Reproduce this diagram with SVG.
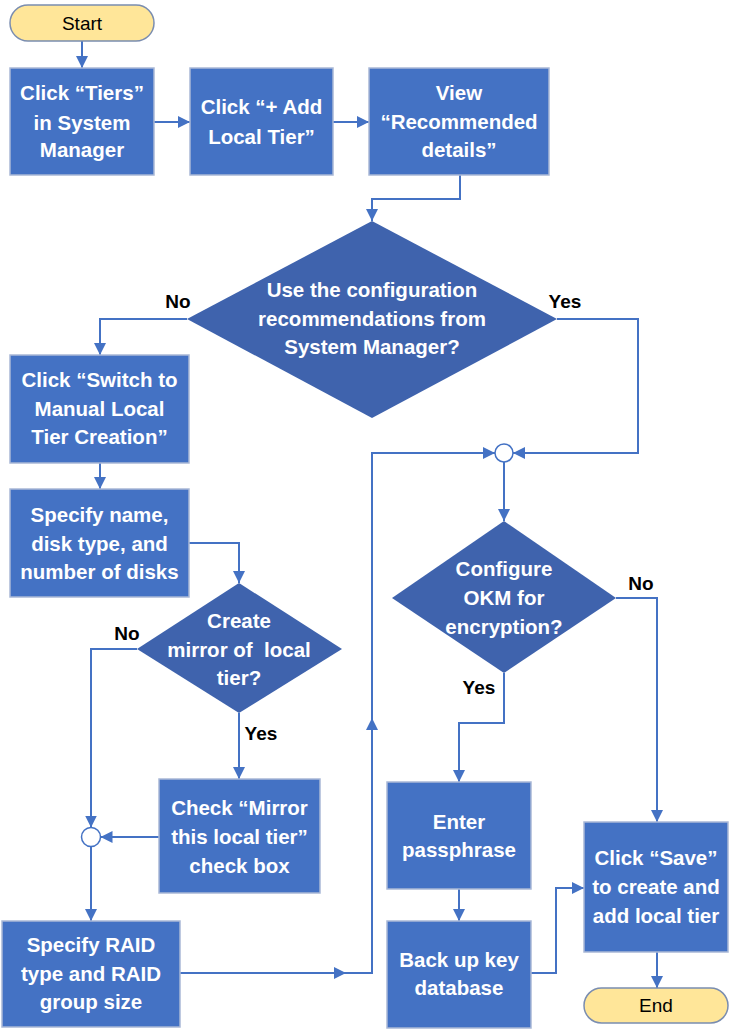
<svg xmlns="http://www.w3.org/2000/svg" width="741" height="1032" viewBox="0 0 741 1032">
<defs>
<style>
.box{fill:#4472C4;stroke:#A9B8D6;stroke-width:1.5}
.dia{fill:#3F63AD;stroke:none}
.term{fill:#FFE699;stroke:#7A8DB0;stroke-width:1.5}
.jn{fill:#FFFFFF;stroke:#4472C4;stroke-width:1.5}
.t{font-family:"Liberation Sans",Arial,sans-serif;font-size:20.5px;font-weight:bold;fill:#FFFFFF;text-anchor:middle}
.tt{font-family:"Liberation Sans",Arial,sans-serif;font-size:19px;fill:#000000;text-anchor:middle}
.lb{font-family:"Liberation Sans",Arial,sans-serif;font-size:19px;font-weight:bold;fill:#000000;text-anchor:middle}
.c{fill:none;stroke:#4472C4;stroke-width:2}
</style>
<marker id="ah" viewBox="0 0 12 12" refX="12" refY="6" markerWidth="12" markerHeight="12" markerUnits="userSpaceOnUse" orient="auto">
<path d="M0,0 L12,6 L0,12 Z" fill="#4472C4"/>
</marker>
</defs>
<rect width="741" height="1032" fill="#FFFFFF"/>

<g id="connectors">
<path class="c" d="M82,41 V68" marker-end="url(#ah)"/>
<path class="c" d="M154,122 H190" marker-end="url(#ah)"/>
<path class="c" d="M333,122 H369" marker-end="url(#ah)"/>
<path class="c" d="M460,175 V199 H372 V221" marker-end="url(#ah)"/>
<path class="c" d="M187,319 H100 V355" marker-end="url(#ah)"/>
<path class="c" d="M557,319 H638 V453 H513" marker-end="url(#ah)"/>
<path class="c" d="M100,463 V489" marker-end="url(#ah)"/>
<path class="c" d="M189,543 H239 V583" marker-end="url(#ah)"/>
<path class="c" d="M137,649 H91 V827.5" marker-end="url(#ah)"/>
<path class="c" d="M239,713 V779" marker-end="url(#ah)"/>
<path class="c" d="M159,837 H100.5" marker-end="url(#ah)"/>
<path class="c" d="M91,846.5 V921" marker-end="url(#ah)"/>
<path class="c" d="M180,973 H346" marker-end="url(#ah)"/>
<path class="c" d="M346,973 H372 V718" marker-end="url(#ah)"/>
<path class="c" d="M372,718 V453 H495" marker-end="url(#ah)"/>
<path class="c" d="M504,462 V521" marker-end="url(#ah)"/>
<path class="c" d="M504,673 V723 H459 V782" marker-end="url(#ah)"/>
<path class="c" d="M616,598 H657 V822" marker-end="url(#ah)"/>
<path class="c" d="M459,889 V921" marker-end="url(#ah)"/>
<path class="c" d="M531,973 H556 V888 H584" marker-end="url(#ah)"/>
<path class="c" d="M657,952 V988" marker-end="url(#ah)"/>
</g>

<g id="start">
<rect class="term" x="10" y="5" width="144" height="36" rx="18"/>
<text class="tt" x="82" y="30">Start</text>
</g>

<g id="click-tiers">
<rect class="box" x="10" y="68" width="144" height="107"/>
<text class="t" x="82" y="100">Click “Tiers”</text>
<text class="t" x="82" y="130">in System</text>
<text class="t" x="82" y="157">Manager</text>
</g>

<g id="add-local-tier">
<rect class="box" x="190" y="68" width="143" height="107"/>
<text class="t" x="261.5" y="114">Click “+ Add</text>
<text class="t" x="261.5" y="144">Local Tier”</text>
</g>

<g id="view-recommended">
<rect class="box" x="369" y="68" width="180" height="107"/>
<text class="t" x="459" y="100">View</text>
<text class="t" x="459" y="129">“Recommended</text>
<text class="t" x="459" y="157">details”</text>
</g>

<g id="use-config">
<polygon class="dia" points="372,221 557,319 372,418 187,319"/>
<text class="t" x="372" y="297">Use the configuration</text>
<text class="t" x="372" y="326">recommendations from</text>
<text class="t" x="372" y="354">System Manager?</text>
<text class="lb" x="178" y="308">No</text>
<text class="lb" x="565" y="308">Yes</text>
</g>

<g id="switch-manual">
<rect class="box" x="10" y="355" width="179" height="108"/>
<text class="t" x="99.5" y="387">Click “Switch to</text>
<text class="t" x="99.5" y="416">Manual Local</text>
<text class="t" x="99.5" y="444">Tier Creation”</text>
</g>

<g id="specify-name">
<rect class="box" x="10" y="489" width="179" height="108"/>
<text class="t" x="99.5" y="522">Specify name,</text>
<text class="t" x="99.5" y="551">disk type, and</text>
<text class="t" x="99.5" y="579">number of disks</text>
</g>

<g id="create-mirror">
<polygon class="dia" points="239,583 342,649 239,713 137,649"/>
<text class="t" x="239" y="628">Create</text>
<text class="t" x="239" y="657">mirror of&#160; local</text>
<text class="t" x="239" y="685">tier?</text>
<text class="lb" x="127" y="640">No</text>
<text class="lb" x="261" y="740">Yes</text>
</g>

<g id="check-mirror">
<rect class="box" x="159" y="779" width="161" height="114"/>
<text class="t" x="239.5" y="815">Check “Mirror</text>
<text class="t" x="239.5" y="844">this local tier”</text>
<text class="t" x="239.5" y="873">check box</text>
</g>

<g id="junction-left">
<circle class="jn" cx="91" cy="837" r="9.5"/>
</g>

<g id="specify-raid">
<rect class="box" x="2" y="921" width="178" height="106"/>
<text class="t" x="91" y="952">Specify RAID</text>
<text class="t" x="91" y="981">type and RAID</text>
<text class="t" x="91" y="1009">group size</text>
</g>

<g id="junction-right">
<circle class="jn" cx="504" cy="453" r="9"/>
</g>

<g id="configure-okm">
<polygon class="dia" points="504,521 616,598 504,673 392,598"/>
<text class="t" x="504" y="576">Configure</text>
<text class="t" x="504" y="605">OKM for</text>
<text class="t" x="504" y="634">encryption?</text>
<text class="lb" x="641" y="590">No</text>
<text class="lb" x="479" y="694">Yes</text>
</g>

<g id="enter-passphrase">
<rect class="box" x="387" y="782" width="144" height="107"/>
<text class="t" x="459" y="829">Enter</text>
<text class="t" x="459" y="857">passphrase</text>
</g>

<g id="backup-key">
<rect class="box" x="387" y="921" width="144" height="107"/>
<text class="t" x="459" y="967">Back up key</text>
<text class="t" x="459" y="995">database</text>
</g>

<g id="click-save">
<rect class="box" x="584" y="822" width="144" height="130"/>
<text class="t" x="656" y="865">Click “Save”</text>
<text class="t" x="656" y="894">to create and</text>
<text class="t" x="656" y="923">add local tier</text>
</g>

<g id="end">
<rect class="term" x="584" y="988" width="144" height="35" rx="17.5"/>
<text class="tt" x="656" y="1012">End</text>
</g>
</svg>
